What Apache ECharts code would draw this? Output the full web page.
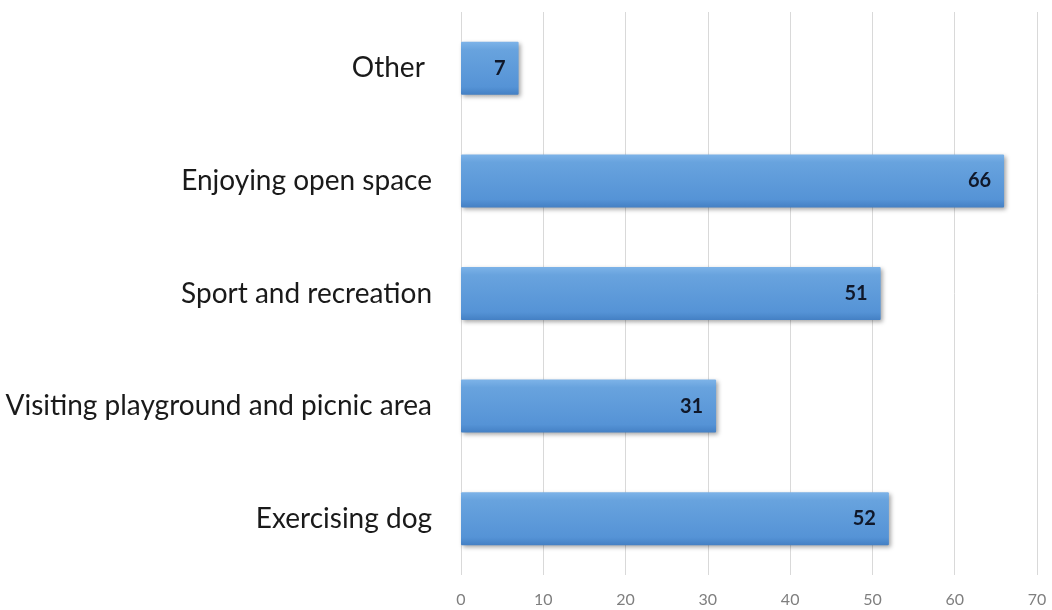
<!DOCTYPE html>
<html>
<head>
<meta charset="utf-8">
<script src="https://cdn.jsdelivr.net/npm/echarts@6/dist/echarts.min.js"></script>
<style>
  html, body { margin: 0; padding: 0; background: #ffffff; }
  #chart { width: 1052px; height: 610px; }
</style>
</head>
<body>
<div id="chart"></div>
<script>
// Activities, listed bottom to top as drawn on the category axis
const categories = [
  'Exercising dog',
  'Visiting playground and picnic area',
  'Sport and recreation',
  'Enjoying open space',
  'Other '
];
const counts = [52, 31, 51, 66, 7];
const xTicks = [0, 10, 20, 30, 40, 50, 60, 70];

const chart = echarts.init(document.getElementById('chart'));

chart.setOption({
  backgroundColor: '#ffffff',
  animation: false,
  grid: { left: 461, right: 15, top: 12, bottom: 35, containLabel: false },
  xAxis: {
    type: 'value',
    min: xTicks[0],
    max: xTicks[xTicks.length - 1],
    interval: 10,
    axisLine: { show: false },
    axisTick: { show: false },
    splitLine: { show: true, lineStyle: { color: '#d9d9d9', width: 1 } },
    axisLabel: {
      color: '#7f7f7f',
      fontSize: 16,
      fontFamily: 'Lato, "Open Sans", sans-serif',
      margin: 17
    }
  },
  yAxis: {
    type: 'category',
    data: categories,
    axisLine: { show: false },
    axisTick: { show: false },
    splitLine: { show: false },
    axisLabel: {
      color: '#1a1a1a',
      fontSize: 28,
      fontFamily: 'Lato, "Open Sans", sans-serif',
      margin: 29
    }
  },
  series: [{
    type: 'bar',
    data: counts,
    barWidth: 53,
    itemStyle: {
      color: new echarts.graphic.LinearGradient(0, 0, 0, 1, [
        { offset: 0, color: '#7db3e8' },
        { offset: 0.15, color: '#68a3de' },
        { offset: 0.85, color: '#5593d6' },
        { offset: 1, color: '#4480c4' }
      ]),
      borderRadius: 1,
      shadowColor: 'rgba(0,0,0,0.35)',
      shadowBlur: 4,
      shadowOffsetX: 2,
      shadowOffsetY: 2
    },
    label: {
      show: true,
      position: 'insideRight',
      distance: 13,
      color: '#10182a',
      fontSize: 20,
      fontWeight: 'bold',
      fontFamily: 'Lato, "Open Sans", sans-serif'
    }
  }]
});
</script>
</body>
</html>
